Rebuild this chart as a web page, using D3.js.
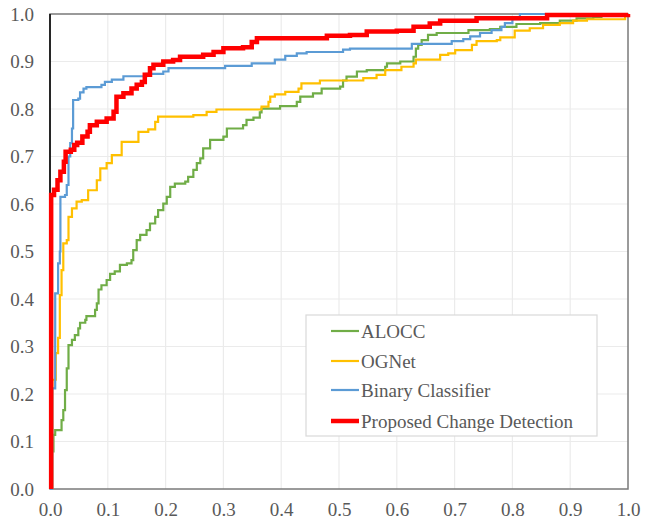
<!DOCTYPE html>
<html>
<head>
<meta charset="utf-8">
<script src="https://cdn.jsdelivr.net/npm/d3@7"></script>
<style>
  html, body { margin: 0; padding: 0; background: #fff; }
  svg { display: block; }
</style>
</head>
<body>
<svg id="chart" width="650" height="521"></svg>
<script>
// ---------------- DATA ----------------
const seriesNames = ["ALOCC", "OGNet", "Binary Classifier", "Proposed Change Detection"];
const xTicks = [0, 0.1, 0.2, 0.3, 0.4, 0.5, 0.6, 0.7, 0.8, 0.9, 1.0];
const yTicks = [0, 0.1, 0.2, 0.3, 0.4, 0.5, 0.6, 0.7, 0.8, 0.9, 1.0];

const aloccFpr = [0.005,0.006,0.009,0.02,0.023,0.026,0.029,0.032,0.038,0.043,0.049,0.052,0.061,0.063,0.078,0.081,0.084,0.089,0.098,0.104,0.112,0.121,0.133,0.141,0.144,0.15,0.156,0.167,0.173,0.182,0.187,0.196,0.202,0.208,0.216,0.234,0.239,0.248,0.254,0.26,0.265,0.277,0.3,0.306,0.334,0.34,0.352,0.363,0.366,0.398,0.427,0.433,0.455,0.47,0.502,0.507,0.513,0.531,0.548,0.58,0.583,0.606,0.629,0.633,0.637,0.643,0.654,0.669,0.724,0.761,0.779,0.807,0.848,0.882,0.911,0.94,0.954,1.0];
const aloccTpr = [0.079,0.114,0.124,0.145,0.166,0.208,0.254,0.303,0.314,0.324,0.338,0.35,0.356,0.364,0.377,0.391,0.42,0.429,0.44,0.453,0.458,0.472,0.475,0.482,0.503,0.524,0.535,0.545,0.559,0.573,0.587,0.601,0.615,0.636,0.643,0.647,0.657,0.672,0.686,0.696,0.717,0.735,0.742,0.759,0.766,0.777,0.782,0.793,0.801,0.806,0.815,0.826,0.833,0.843,0.847,0.86,0.868,0.879,0.882,0.889,0.896,0.9,0.91,0.927,0.935,0.945,0.956,0.96,0.966,0.968,0.973,0.979,0.981,0.986,0.991,0.994,0.998,1.0];

const ognetFpr = [0,0.004,0.01,0.014,0.017,0.02,0.023,0.029,0.032,0.038,0.046,0.055,0.066,0.081,0.087,0.098,0.107,0.124,0.153,0.17,0.182,0.187,0.248,0.271,0.288,0.366,0.378,0.381,0.389,0.407,0.43,0.435,0.467,0.542,0.565,0.58,0.608,0.629,0.633,0.675,0.689,0.701,0.73,0.738,0.773,0.779,0.804,0.83,0.853,0.882,0.905,0.929,0.995,1.0];
const ognetTpr = [0,0.23,0.286,0.318,0.408,0.461,0.517,0.524,0.573,0.591,0.605,0.608,0.629,0.65,0.675,0.686,0.703,0.731,0.752,0.757,0.773,0.784,0.787,0.794,0.799,0.805,0.815,0.826,0.831,0.836,0.843,0.854,0.86,0.865,0.872,0.882,0.889,0.896,0.904,0.914,0.917,0.924,0.935,0.943,0.945,0.951,0.965,0.97,0.977,0.981,0.986,0.989,0.996,1.0];

const binaryFpr = [0,0.004,0.009,0.014,0.017,0.018,0.026,0.029,0.032,0.035,0.038,0.04,0.049,0.052,0.058,0.063,0.089,0.095,0.107,0.127,0.167,0.196,0.205,0.303,0.349,0.389,0.407,0.427,0.444,0.507,0.519,0.626,0.695,0.715,0.727,0.744,0.764,0.781,0.787,0.8,0.813,1.0];
const binaryTpr = [0,0.212,0.412,0.475,0.5,0.615,0.619,0.64,0.7,0.728,0.759,0.819,0.822,0.835,0.843,0.846,0.851,0.857,0.862,0.869,0.874,0.879,0.886,0.891,0.896,0.904,0.912,0.917,0.92,0.925,0.927,0.937,0.943,0.947,0.953,0.96,0.966,0.973,0.981,0.989,1.0,1.0];

const proposedFpr = [0.002,0.002,0.007,0.013,0.018,0.024,0.027,0.036,0.042,0.047,0.056,0.065,0.069,0.081,0.098,0.11,0.115,0.127,0.141,0.15,0.159,0.164,0.173,0.179,0.196,0.213,0.225,0.265,0.283,0.3,0.334,0.349,0.358,0.479,0.519,0.548,0.6,0.629,0.657,0.675,0.738,0.86,1.0];
const proposedTpr = [0,0.619,0.63,0.65,0.668,0.689,0.71,0.714,0.724,0.729,0.742,0.752,0.766,0.773,0.78,0.794,0.826,0.833,0.843,0.851,0.857,0.872,0.886,0.893,0.9,0.903,0.91,0.914,0.92,0.928,0.93,0.941,0.949,0.954,0.956,0.963,0.965,0.973,0.98,0.986,0.991,0.998,1.0];

// ---------------- STYLE ----------------
const colors = ["#70AD47", "#FFC000", "#5B9BD5", "#FF0000"];
const widths = [2.2, 2.2, 2.2, 4.5];
const fontFam = "'Liberation Serif', 'Times New Roman', serif";
const textColor = "#595959";

const svg = d3.select("#chart");
const L = 50, R = 628, T = 14, B = 489;
const x = d3.scaleLinear().domain([0, 1]).range([L, R]);
const y = d3.scaleLinear().domain([0, 1]).range([B, T]);

// gridlines
svg.append("g").selectAll("line").data(xTicks.slice(1, -1)).join("line")
  .attr("x1", d => x(d)).attr("x2", d => x(d)).attr("y1", T).attr("y2", B)
  .attr("stroke", "#ebebeb").attr("stroke-width", 1.2);
svg.append("g").selectAll("line").data(yTicks.slice(1, -1)).join("line")
  .attr("x1", L).attr("x2", R).attr("y1", d => y(d)).attr("y2", d => y(d))
  .attr("stroke", "#ebebeb").attr("stroke-width", 1.2);

// frame
svg.append("rect").attr("x", L).attr("y", T).attr("width", R - L).attr("height", B - T)
  .attr("fill", "none").attr("stroke", "#7a7a7a").attr("stroke-width", 1.5);
svg.append("line").attr("x1", L).attr("x2", L).attr("y1", T).attr("y2", B)
  .attr("stroke", "#000").attr("stroke-width", 1.5);

// axes (labels only)
const xAxis = d3.axisBottom(x).tickValues(xTicks).tickFormat(d3.format(".1f")).tickSize(0).tickPadding(14);
const yAxis = d3.axisLeft(y).tickValues(yTicks).tickFormat(d3.format(".1f")).tickSize(0).tickPadding(16);
const gx = svg.append("g").attr("transform", `translate(0,${B})`).call(xAxis);
const gy = svg.append("g").attr("transform", `translate(${L},0)`).call(yAxis);
[gx, gy].forEach(g => {
  g.select(".domain").remove();
  g.selectAll("text").attr("font-family", fontFam).attr("font-size", 19).attr("fill", textColor);
});

// series
const series = [
  [aloccFpr, aloccTpr],
  [ognetFpr, ognetTpr],
  [binaryFpr, binaryTpr],
  [proposedFpr, proposedTpr]
];
const line = d3.line().x(d => x(d[0])).y(d => y(d[1])).curve(d3.curveStepAfter);
series.forEach((s, i) => {
  const pts = s[0].map((v, j) => [v, s[1][j]]);
  svg.append("path").datum(pts).attr("d", line)
    .attr("fill", "none").attr("stroke", colors[i]).attr("stroke-width", widths[i])
    .attr("stroke-linejoin", "miter");
});

// legend
const lg = svg.append("g");
lg.append("rect").attr("x", 306).attr("y", 315).attr("width", 291).attr("height", 121)
  .attr("fill", "#fff").attr("stroke", "#d9d9d9").attr("stroke-width", 1.2);
const rowY = [331, 361, 390, 421];
seriesNames.forEach((n, i) => {
  lg.append("line").attr("x1", 331).attr("x2", 359).attr("y1", rowY[i]).attr("y2", rowY[i])
    .attr("stroke", colors[i]).attr("stroke-width", widths[i]);
  lg.append("text").attr("x", 361).attr("y", rowY[i]).attr("dy", "0.35em")
    .attr("font-family", fontFam).attr("font-size", 19).attr("fill", textColor).text(n);
});
</script>
</body>
</html>
